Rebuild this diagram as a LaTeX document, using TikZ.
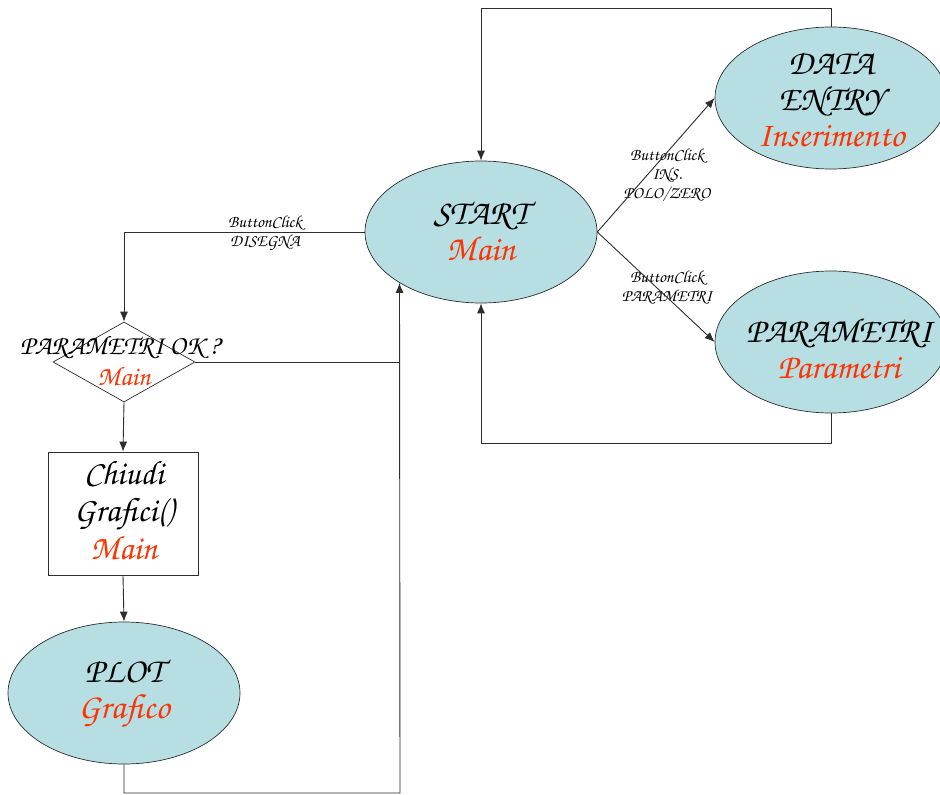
\documentclass[tikz,border=0pt]{standalone}
\usetikzlibrary{arrows.meta,shapes.geometric}
\definecolor{fillc}{RGB}{183,223,227}
\definecolor{redt}{RGB}{255,51,0}
\definecolor{linec}{RGB}{45,45,45}
\newcommand\chfont{\fontencoding{T1}\fontfamily{pzc}\fontseries{mb}\fontshape{it}\selectfont}
\begin{document}
\begin{tikzpicture}[x=1pt,y=-1pt,
  state/.style={ellipse, draw=linec, fill=fillc, minimum width=232pt, minimum height=142pt, inner sep=0pt, line width=0.7pt},
  big/.style={font=\chfont\fontsize{35}{36}\selectfont, align=center, inner sep=0pt},
  boxtxt/.style={font=\chfont\fontsize{34}{37.5}\selectfont, align=center, inner sep=0pt},
  mid/.style={font=\chfont\fontsize{27}{29}\selectfont, align=center, inner sep=0pt},
  lab/.style={font=\chfont\fontsize{17}{19}\selectfont, align=center, inner sep=0pt},
  conn/.style={draw=linec, line width=0.9pt},
  arr/.style={conn, -{Latex[length=10pt,width=8pt]}}]
\clip (0,0) rectangle (940,795);
\fill[white] (0,0) rectangle (940,795);
% shapes
\node[state] (start) at (481,232) {};
\node[state] (data) at (831,98) {};
\node[state] (param) at (831,342) {};
\node[state] (plot) at (124,693) {};
\node[diamond, draw=linec, line width=0.7pt, minimum width=142pt, minimum height=80pt, inner sep=0pt] (dia) at (124,362) {};
\node[draw=linec, line width=0.7pt, minimum width=150pt, minimum height=123pt, inner sep=0pt] (box) at (123,513.5) {};
% texts
\node[big] (startt) at (481,231) {START\\\textcolor{redt}{Main}};
\node[big] (datat) at (831,99) {DATA\\ENTRY\\\textcolor{redt}{Inserimento}};
\node[big] (paramt) at (839,348) {PARAMETRI\\\textcolor{redt}{Parametri}};
\node[big] (plott) at (124,694) {PLOT\\\textcolor{redt}{Grafico}};
\node[boxtxt] (boxt) at (124,510) {Chiudi\\Grafici()\\\textcolor{redt}{Main}};
\node[mid] (diat1) at (120,347) {PARAMETRI OK ?};
\node[mid, text=redt] (diat2) at (124,376) {Main};
% connector labels
\node[lab] (l1) at (265,233) {ButtonClick\\DISEGNA};
\node[lab] (l2) at (667,175) {ButtonClick\\INS.\\POLO/ZERO};
\node[lab] (l3) at (667,287) {ButtonClick\\PARAMETRI};
% connectors
\coordinate (ctop) at (481,8);
\coordinate (cbot) at (481,443);
\coordinate (cplot) at (400,793);
\draw[arr] (start.west) -| (dia.north);
\draw[arr] (dia.south) -- (box.north);
\draw[arr] (box.south) -- (plot.north);
\draw[arr] (plot.south) |- (cplot) -- (start.212);
\draw[conn] (dia.east) -- (dia.east -| cplot);
\draw[arr] (start.east) -- (data.west);
\draw[arr] (start.east) -- (param.west);
\draw[arr] (data.north) |- (ctop) -- (start.north);
\draw[arr] (param.south) |- (cbot) -- (start.south);
\end{tikzpicture}
\end{document}
